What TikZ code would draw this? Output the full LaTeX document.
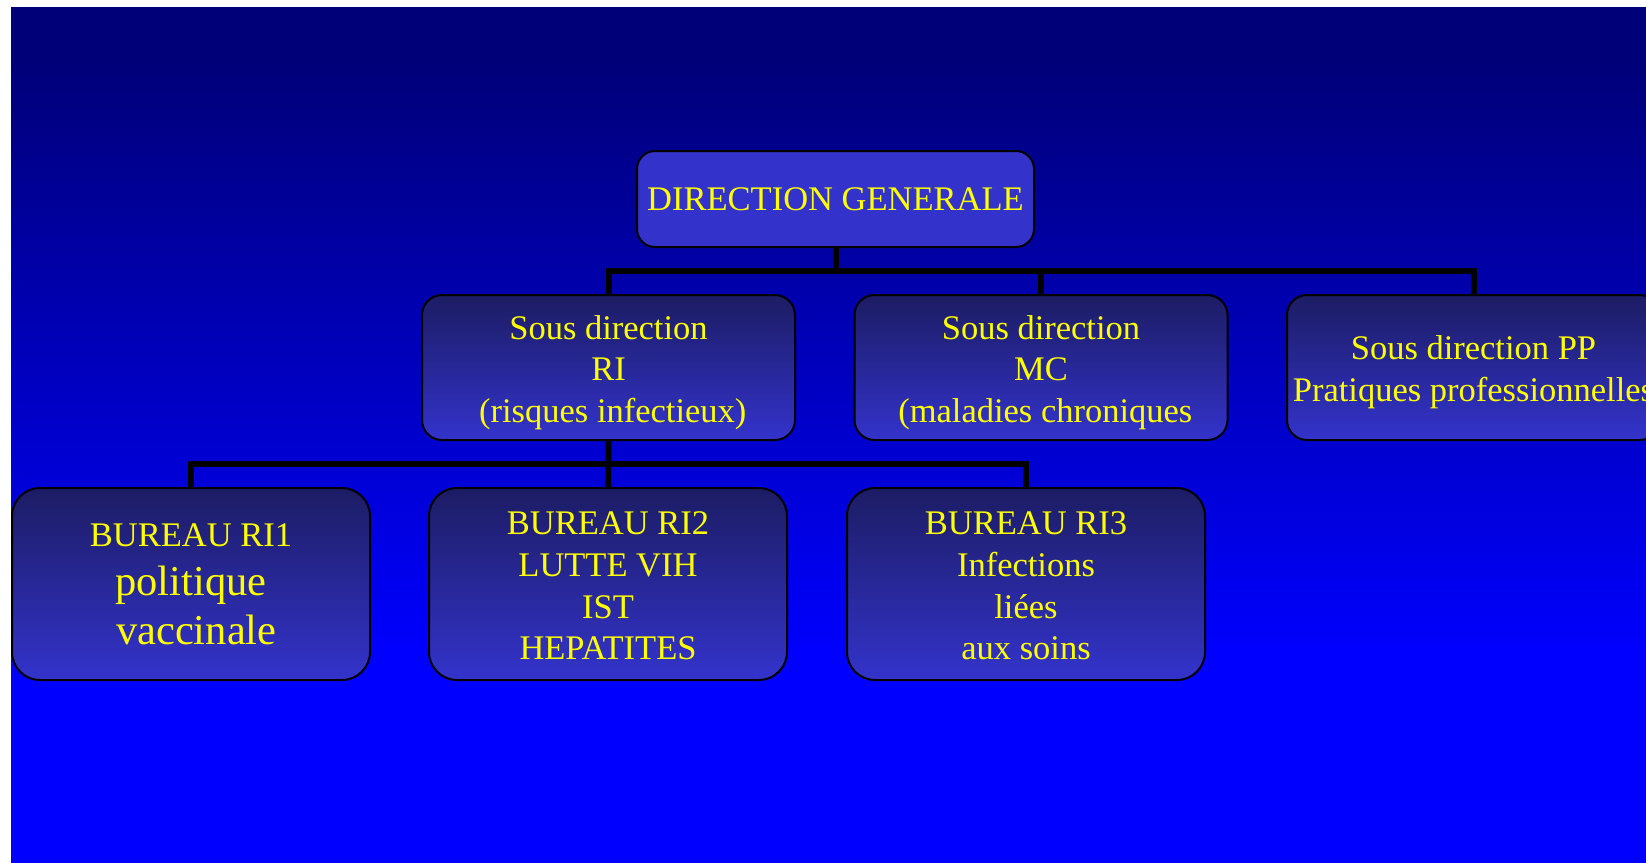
\documentclass[tikz,border=0pt]{standalone}
\usepackage{fontspec}
\setmainfont{Liberation Serif}
\usepackage{tikz}
\definecolor{bgnavy}{HTML}{000078}
\definecolor{bgblue}{HTML}{0000FF}
\definecolor{boxtop}{HTML}{1C1C64}
\definecolor{boxbottom}{HTML}{3333CC}
\definecolor{labelyellow}{HTML}{FFFF00}
\newcommand{\boxfont}{\fontsize{17.25pt}{20.85pt}\selectfont}
\newcommand{\bigfont}{\fontsize{21.25pt}{24.5pt}\selectfont}
\newcommand{\topstrut}[1]{\rule{0pt}{#1}}
\pgfdeclareverticalshading{bgshade}{100bp}{color(0bp)=(bgblue); color(37bp)=(bgblue); color(72bp)=(bgnavy); color(100bp)=(bgnavy)}
\tikzset{
    orgbox/.style={draw=black, line width=1pt, text=labelyellow, align=center, inner sep=0pt, font=\boxfont},
    dirbox/.style={orgbox, fill=boxbottom, rounded corners=9pt, minimum width=198.5pt, minimum height=48pt},
    sousbox/.style={orgbox, top color=boxtop, bottom color=boxbottom, rounded corners=10pt, minimum width=186.5pt, minimum height=72.5pt},
    bureaubox/.style={orgbox, top color=boxtop, bottom color=boxbottom, rounded corners=14pt, minimum width=179pt, minimum height=96pt},
    connector/.style={line width=3pt, black}
}

\begin{document}
\begin{tikzpicture}[x=0.5pt, y=-0.5pt]
            % background
            \useasboundingbox (0,0) rectangle (1646,863);
            \fill[white] (0,0) rectangle (1646,863);
            \shade[shading=bgshade] (11,7) rectangle (1646,863);

            % direction generale
            \node[dirbox] (dg) at (835.5,199) {DIRECTION GENERALE};

            % sous directions
            \node[sousbox] (ri) at (608.5,367.5) {\topstrut{17pt}Sous direction\ \\ RI\\ \ (risques infectieux)};
            \node[sousbox] (mc) at (1041,367.5) {\topstrut{17pt}Sous direction\ \\ MC\ \\ \ (maladies chroniques};
            \node[sousbox] (pp) at (1473.5,367.5) {\topstrut{17pt}Sous direction PP\\ Pratiques professionnelles};

            % bureaux
            \node[bureaubox, font=\bigfont] (ri1) at (191,584) {{\boxfont BUREAU RI1}\\ politique\\ \ vaccinale};
            \node[bureaubox] (ri2) at (608,584) {\topstrut{13.5pt}BUREAU RI2\\ LUTTE VIH\\ IST\\ HEPATITES};
            \node[bureaubox] (ri3) at (1026,584) {\topstrut{13.5pt}BUREAU RI3\\ Infections\ \\ li\'ees\ \\ aux soins};

            % liaisons
            \coordinate (bar1) at (835.5,271);
            \coordinate (bar2) at (608.5,463.5);
            \draw[connector] (dg.south) -- (bar1);
            \draw[connector] (ri.north) |- (bar1 -| pp.north) -- (pp.north);
            \draw[connector] (mc.north) -- (mc.north |- bar1);
            \draw[connector] (ri.south) -- (ri2.north);
            \draw[connector] (ri1.north) |- (bar2 -| ri3.north) -- (ri3.north);
        \end{tikzpicture}
\end{document}
